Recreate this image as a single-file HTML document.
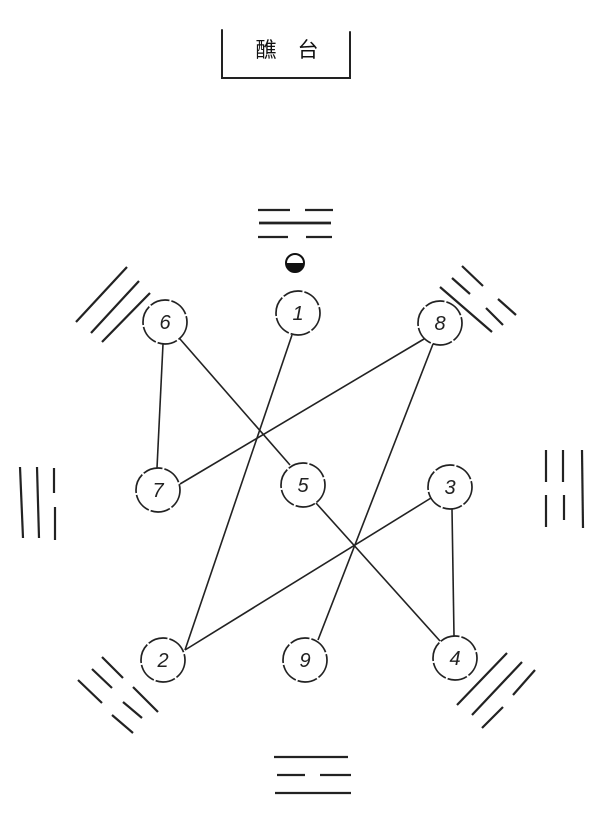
<!DOCTYPE html>
<html><head><meta charset="utf-8"><style>
html,body{margin:0;padding:0;background:#fff;}
svg{display:block}
text{font-family:"Liberation Sans","Noto Sans CJK SC",sans-serif;}
</style></head><body>
<svg width="600" height="827" viewBox="0 0 600 827" xmlns="http://www.w3.org/2000/svg">
<g stroke="#222" stroke-width="2" fill="none" stroke-linecap="round">
<polyline points="222,30 222,78 350,78 350,32"/>
</g>
<text x="287" y="57" font-size="21" text-anchor="middle" fill="#111" font-family="'Noto Sans CJK SC',sans-serif">醮　台</text>
<g stroke="#222" stroke-width="2.2" fill="none">
<line x1="258" y1="210" x2="290" y2="210"/><line x1="305" y1="210" x2="333" y2="210"/>
<line x1="259" y1="223" x2="331" y2="223" stroke-width="2.8"/>
<line x1="258" y1="237" x2="288" y2="237"/><line x1="306" y1="237" x2="332" y2="237"/>
<line x1="20" y1="467" x2="23" y2="538"/><line x1="37" y1="467" x2="39" y2="538"/>
<line x1="54" y1="468" x2="54" y2="493"/><line x1="55" y1="507" x2="55" y2="540"/>
<line x1="546" y1="450" x2="546" y2="482"/><line x1="546" y1="495" x2="546" y2="527"/>
<line x1="563" y1="450" x2="563" y2="482"/><line x1="564" y1="495" x2="564" y2="520"/>
<line x1="582" y1="450" x2="583" y2="528"/>
<line x1="76" y1="322" x2="127" y2="267"/><line x1="91" y1="333" x2="139" y2="281"/><line x1="102" y1="342" x2="150" y2="293"/>
<line x1="462" y1="266" x2="483" y2="286"/><line x1="498" y1="299" x2="516" y2="315"/>
<line x1="452" y1="278" x2="470" y2="294"/><line x1="486" y1="308" x2="503" y2="325"/>
<line x1="440" y1="287" x2="492" y2="332"/>
<line x1="102" y1="657" x2="123" y2="678"/><line x1="133" y1="687" x2="158" y2="712"/>
<line x1="92" y1="669" x2="112" y2="688"/><line x1="123" y1="702" x2="142" y2="718"/>
<line x1="78" y1="680" x2="102" y2="703"/><line x1="112" y1="715" x2="133" y2="733"/>
<line x1="507" y1="653" x2="457" y2="705"/><line x1="522" y1="662" x2="472" y2="715"/>
<line x1="535" y1="670" x2="513" y2="695"/><line x1="503" y1="707" x2="482" y2="728"/>
<line x1="274" y1="757" x2="348" y2="757"/>
<line x1="277" y1="775" x2="305" y2="775"/><line x1="320" y1="775" x2="351" y2="775"/>
<line x1="275" y1="793" x2="351" y2="793"/>
</g>
<circle cx="295" cy="263" r="9" fill="#fff" stroke="#111" stroke-width="2"/>
<path d="M286,263 A9,9 0 0 0 304,263 Z" fill="#111"/>
<g stroke="#222" stroke-width="1.6" fill="none">
<line x1="163" y1="344" x2="157" y2="468"/>
<line x1="180" y1="339" x2="290" y2="465"/>
<line x1="292" y1="335" x2="185" y2="650"/>
<line x1="424" y1="339" x2="180" y2="484"/>
<line x1="433" y1="344" x2="318" y2="640"/>
<line x1="316" y1="503" x2="440" y2="641"/>
<line x1="431" y1="498" x2="185" y2="650"/>
<line x1="452" y1="509" x2="454" y2="636"/>
</g>
<g stroke="#222" stroke-width="1.7" fill="#fff" stroke-dasharray="20 2">
<circle cx="165" cy="322" r="22"/><circle cx="298" cy="313" r="22"/><circle cx="440" cy="323" r="22"/>
<circle cx="158" cy="490" r="22"/><circle cx="303" cy="485" r="22"/><circle cx="450" cy="487" r="22"/>
<circle cx="163" cy="660" r="22"/><circle cx="305" cy="660" r="22"/><circle cx="455" cy="658" r="22"/>
</g>
<g font-size="20" font-style="italic" text-anchor="middle" fill="#222">
<text x="165" y="329">6</text><text x="298" y="320">1</text><text x="440" y="330">8</text>
<text x="158" y="497">7</text><text x="303" y="492">5</text><text x="450" y="494">3</text>
<text x="163" y="667">2</text><text x="305" y="667">9</text><text x="455" y="665">4</text>
</g>
</svg>
</body></html>
